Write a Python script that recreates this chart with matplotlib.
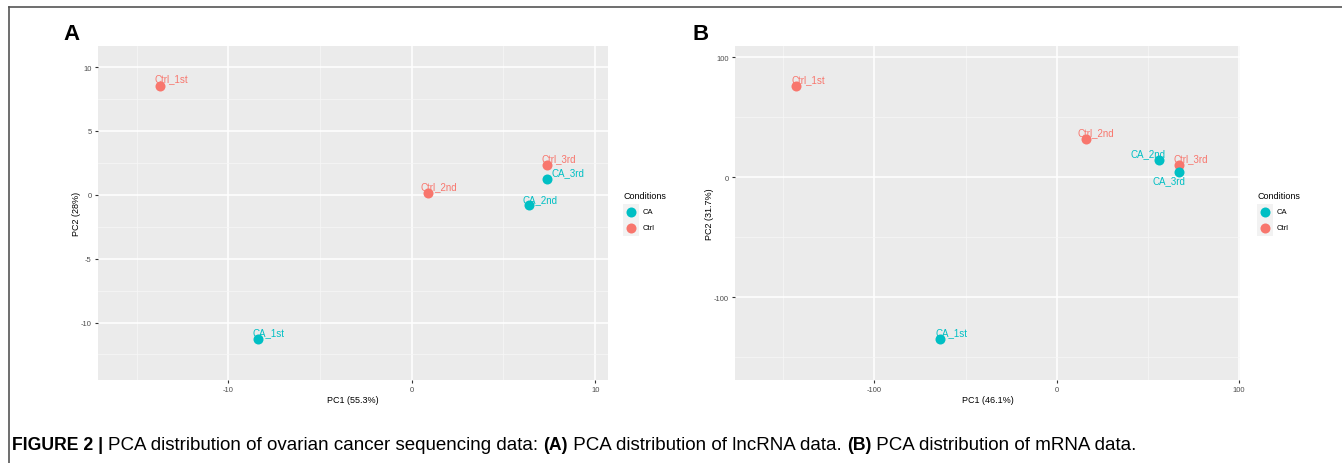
import matplotlib
matplotlib.use("Agg")
import matplotlib.pyplot as plt
from matplotlib.lines import Line2D

W, H = 1342, 464
plt.rcParams['font.family'] = ['Liberation Sans', 'DejaVu Sans']
plt.rcParams['axes.unicode_minus'] = False

# data
samples = ["Ctrl_1st", "Ctrl_2nd", "Ctrl_3rd", "CA_1st", "CA_2nd", "CA_3rd"]
groups = ["Ctrl", "Ctrl", "Ctrl", "CA", "CA", "CA"]
lnc_pc1 = [-13.7, 0.9, 7.4, -8.4, 6.4, 7.4]
lnc_pc2 = [8.55, 0.15, 2.35, -11.3, -0.8, 1.25]
mrna_pc1 = [-143, 16, 67, -64, 56, 67]
mrna_pc2 = [76, 32, 10, -135, 14, 4]

colors = {"CA": "#00BFC4", "Ctrl": "#F8766D"}

# label offsets in pixels (dx to left edge of text, dy to text centre)
off_a = {"Ctrl_1st": (-6, 7), "Ctrl_2nd": (-8, 7), "Ctrl_3rd": (-6, 7),
         "CA_1st": (-5, 7), "CA_2nd": (-7, 6), "CA_3rd": (4, 7)}
off_b = {"Ctrl_1st": (-5, 7), "Ctrl_2nd": (-8, 7), "Ctrl_3rd": (-5, 7),
         "CA_1st": (-5, 7), "CA_2nd": (-28, 7), "CA_3rd": (-26, -8)}

fig = plt.figure(figsize=(W / 100, H / 100), dpi=100)


def px_axes(x0, y0, x1, y1):
    return fig.add_axes([x0 / W, 1 - y1 / H, (x1 - x0) / W, (y1 - y0) / H])


def panel(ax, xs, ys, offs, xlim, ylim, xt, yt, xminor, yminor, xlab, ylab):
    ax.set_facecolor("#EBEBEB")
    for s in ax.spines.values():
        s.set_visible(False)
    ax.set_xlim(*xlim)
    ax.set_ylim(*ylim)
    ax.set_xticks(xt)
    ax.set_yticks(yt)
    ax.set_xticks(xminor, minor=True)
    ax.set_yticks(yminor, minor=True)
    ax.grid(which="major", color="white", lw=1.1)
    ax.grid(which="minor", color="#F7F7F7", lw=0.5)
    ax.set_axisbelow(True)
    ax.tick_params(which="major", length=2.5, width=0.8, color="#333333",
                   labelsize=5.5, labelcolor="#4D4D4D", pad=2)
    ax.tick_params(which="minor", length=0)
    for i, name in enumerate(samples):
        c = colors[groups[i]]
        ax.scatter(xs[i], ys[i], s=52, color=c, zorder=3, linewidths=0)
        dx, dy = offs[name]
        ax.annotate(name, (xs[i], ys[i]), xytext=(dx, dy),
                    textcoords="offset pixels", ha="left", va="center",
                    color=c, fontsize=7, zorder=4)
    ax.set_xlabel(xlab, fontsize=6.5, labelpad=1)
    ax.set_ylabel(ylab, fontsize=6.5, labelpad=0)


def legend(x, y):
    fig.text(x / W, 1 - y / H, "Conditions", fontsize=6.5, va="center")
    for j, g in enumerate(["CA", "Ctrl"]):
        ky = y + 16 + j * 16
        lax = px_axes(x, ky - 8, x + 16, ky + 8)
        lax.set_facecolor("#F2F2F2")
        lax.set_xticks([])
        lax.set_yticks([])
        for s in lax.spines.values():
            s.set_visible(False)
        lax.set_xlim(0, 1)
        lax.set_ylim(0, 1)
        lax.scatter([0.5], [0.5], s=52, color=colors[g], linewidths=0)
        fig.text((x + 20) / W, 1 - ky / H, g, fontsize=5.5, va="center")


axA = px_axes(98, 47, 608, 381)
panel(axA, lnc_pc1, lnc_pc2, off_a, (-17.1, 10.7), (-14.5, 11.65),
      [-10, 0, 10], [-10, -5, 0, 5, 10], [-15, -5, 5], [-12.5, -7.5, -2.5, 2.5, 7.5],
      "PC1 (55.3%)", "PC2 (28%)")
legend(623, 197)

axB = px_axes(735, 47, 1240, 381)
panel(axB, mrna_pc1, mrna_pc2, off_b, (-176.5, 100.5), (-169, 109.4),
      [-100, 0, 100], [-100, 0, 100], [-150, -50, 50], [-150, -50, 50],
      "PC1 (46.1%)", "PC2 (31.7%)")
legend(1257, 197)

fig.text(63 / W, 1 - 35 / H, "A", fontsize=16, fontweight="bold", va="center")
fig.text(693 / W, 1 - 35 / H, "B", fontsize=16, fontweight="bold", va="center")

# frame lines (top and left)
fig.add_artist(Line2D([9 / W, 1], [1 - 8 / H, 1 - 8 / H], color="#555555", lw=1.2,
                      transform=fig.transFigure))
fig.add_artist(Line2D([9 / W, 9 / W], [1 - 8 / H, 0], color="#555555", lw=1.2,
                      transform=fig.transFigure))

# caption
cap_y = 1 - 446 / H
cap_fs = 13.5
t = fig.text(12 / W, cap_y, "FIGURE 2 | ", fontsize=cap_fs - 0.8, fontweight="bold",
             va="center")
fig.canvas.draw()
r = fig.canvas.get_renderer()
bb = t.get_window_extent(r)
parts = [("PCA distribution of ovarian cancer sequencing data: ", "normal"),
         ("(A)", "bold"), (" PCA distribution of lncRNA data. ", "normal"),
         ("(B)", "bold"), (" PCA distribution of mRNA data.", "normal")]
x = bb.x1
for txt, wt in parts:
    tt = fig.text(x / W, cap_y, txt, fontsize=cap_fs if wt == "normal" else cap_fs - 0.8,
                  fontweight=wt, va="center")
    x = tt.get_window_extent(r).x1

fig.savefig("out.png", dpi=100)
